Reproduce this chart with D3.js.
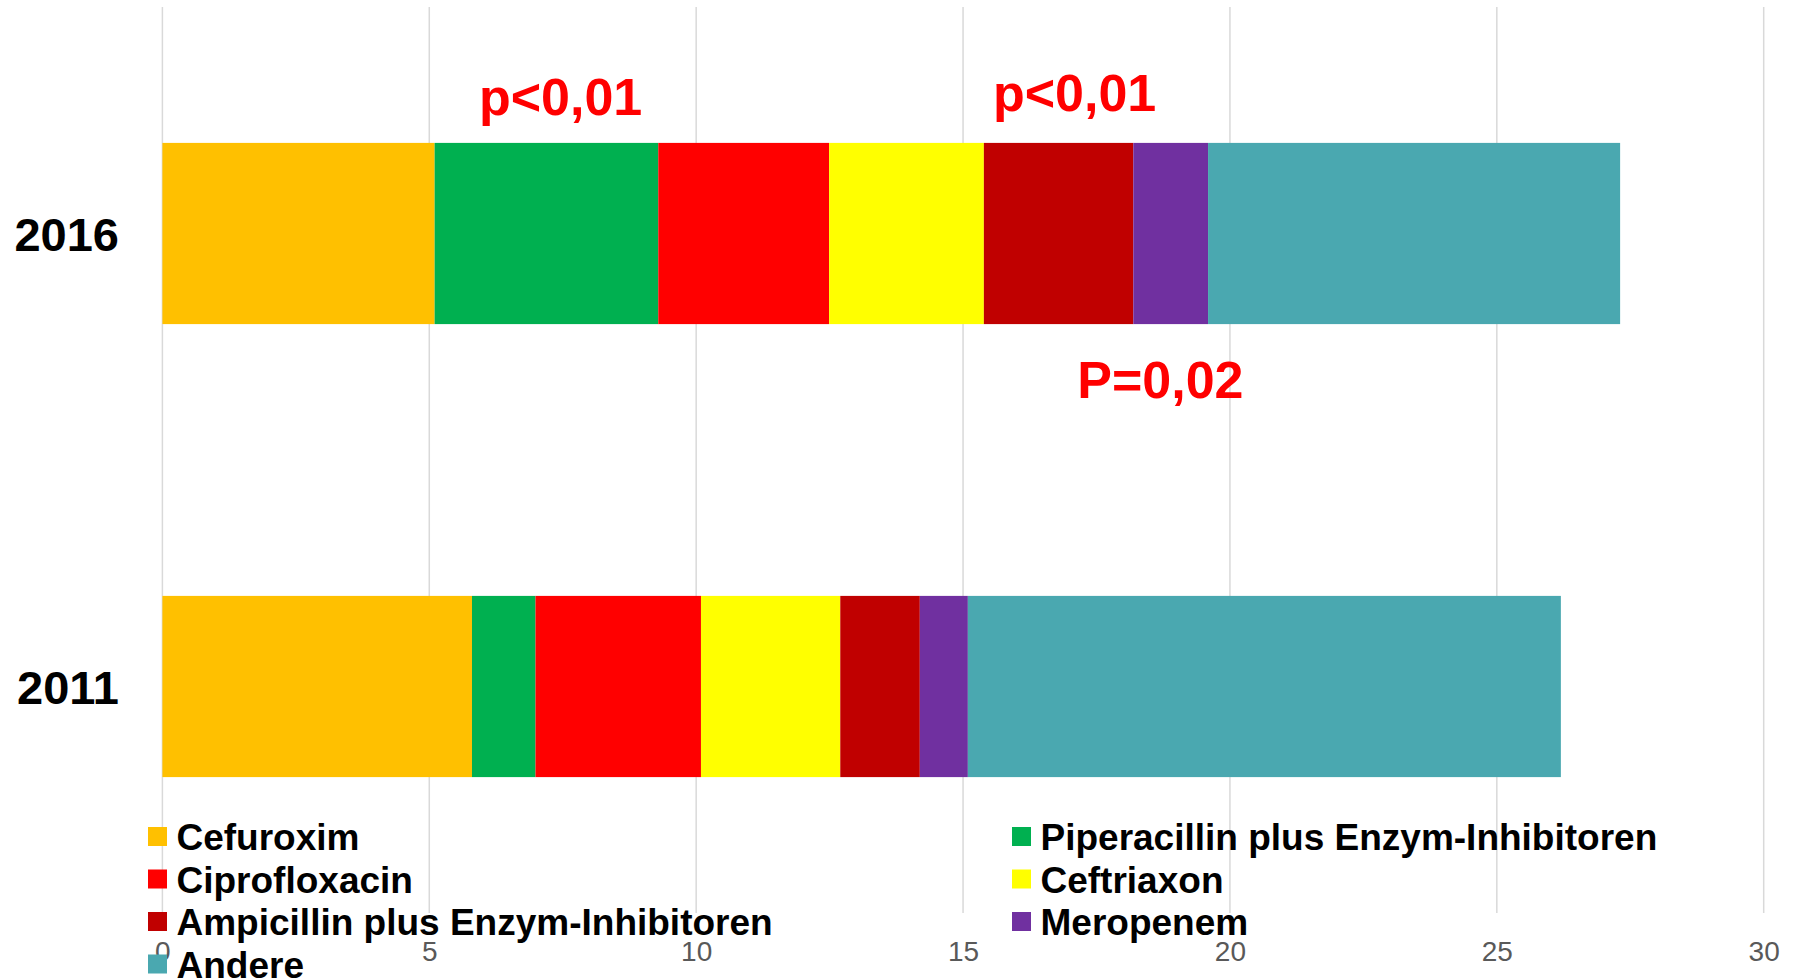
<!DOCTYPE html>
<html>
<head>
<meta charset="utf-8">
<script src="https://cdn.jsdelivr.net/npm/d3@7"></script>
<style>
  html, body { margin: 0; padding: 0; background: #ffffff; }
  svg { display: block; font-family: "Liberation Sans", Arial, sans-serif; }
</style>
</head>
<body>
<svg id="chart" width="1801" height="978"></svg>
<script>
// ---- data ----
const years = ["2016", "2011"];
const categories = ["Cefuroxim", "Piperacillin plus Enzym-Inhibitoren", "Ciprofloxacin", "Ceftriaxon",
                    "Ampicillin plus Enzym-Inhibitoren", "Meropenem", "Andere"];
const colors = ["#FFC000", "#00B050", "#FF0000", "#FFFF00", "#C00000", "#7030A0", "#4AA8B0"];
const values2016 = [5.10, 4.19, 3.20, 2.90, 2.80, 1.40, 7.72];
const values2011 = [5.80, 1.19, 3.10, 2.61, 1.49, 0.90, 11.11];
const xTicks = [0, 5, 10, 15, 20, 25, 30];
const annotations = [
  { text: "p<0,01", x: 5.93, year: "2016", pos: "above", dy: -28 },
  { text: "p<0,01", x: 15.56, year: "2016", pos: "above", dy: -32 },
  { text: "P=0,02", x: 17.14, year: "2016", pos: "below", dy: 74 }
];

// ---- layout ----
const svg = d3.select("#chart");
const x = d3.scaleLinear().domain([0, 30]).range([162.4, 1763.7]);
const y = d3.scaleBand().domain(years).range([7, 913]).paddingInner(0.6).paddingOuter(0.3);

const rows = years.map(yr => {
  const vals = yr === "2016" ? values2016 : values2011;
  const r = { year: yr };
  categories.forEach((c, i) => r[c] = vals[i]);
  return r;
});
const stacked = d3.stack().keys(categories)(rows);

// gridlines
svg.append("g").selectAll("line").data(xTicks).join("line")
  .attr("x1", d => x(d)).attr("x2", d => x(d))
  .attr("y1", 7).attr("y2", 913)
  .attr("stroke", "#d9d9d9").attr("stroke-width", 1.5);

// tick labels (drawn before legend so legend overlays them)
const axis = d3.axisBottom(x).tickValues(xTicks).tickSize(0).tickPadding(0).tickFormat(d3.format("d"));
const ag = svg.append("g").attr("transform", "translate(0,942)").call(axis);
ag.select(".domain").remove();
ag.selectAll("text").attr("font-size", 28).attr("fill", "#595959")
  .attr("font-family", "Liberation Sans, Arial, sans-serif").attr("dy", "0.71em").attr("y", -1);

// bars
svg.append("g").selectAll("g").data(stacked).join("g")
  .attr("fill", (d, i) => colors[i])
  .selectAll("rect").data(d => d).join("rect")
  .attr("x", d => x(d[0]))
  .attr("width", d => x(d[1]) - x(d[0]))
  .attr("y", d => y(d.data.year))
  .attr("height", y.bandwidth());

// year labels
svg.append("g").selectAll("text").data(years).join("text")
  .attr("x", 119)
  .attr("y", d => y(d) + y.bandwidth() / 2 + 17)
  .attr("text-anchor", "end")
  .attr("font-size", 47).attr("font-weight", "bold").attr("fill", "#000")
  .text(d => d);

// annotations
svg.append("g").selectAll("text").data(annotations).join("text")
  .attr("x", d => x(d.x))
  .attr("y", d => d.pos === "above" ? y(d.year) + d.dy : y(d.year) + y.bandwidth() + d.dy)
  .attr("font-size", 52).attr("font-weight", "bold").attr("fill", "#FF0000")
  .text(d => d.text);

// legend
const legendItems = categories.map((c, i) => ({ name: c, color: colors[i], col: i % 2, row: Math.floor(i / 2) }));
const colX = [148, 1012];
const lg = svg.append("g").selectAll("g").data(legendItems).join("g")
  .attr("transform", d => `translate(${colX[d.col]},${836.5 + d.row * 42.5})`);
lg.append("rect").attr("x", 0).attr("y", -9.5).attr("width", 19).attr("height", 19).attr("fill", d => d.color);
lg.append("text").attr("x", 28.5).attr("y", 13.5)
  .attr("font-size", 37).attr("font-weight", "bold").attr("fill", "#000")
  .text(d => d.name);
</script>
</body>
</html>
